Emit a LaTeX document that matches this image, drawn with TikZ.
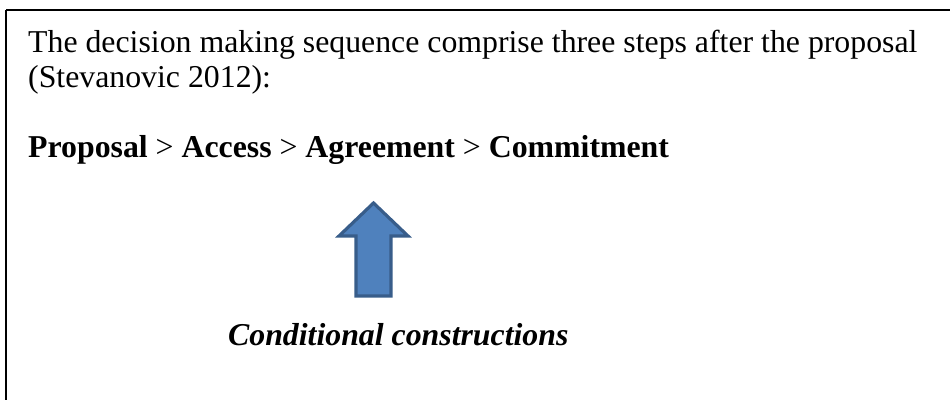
\documentclass[tikz,border=0pt]{standalone}
\usepackage{fontspec}
\setmainfont{Liberation Serif}
\usetikzlibrary{positioning}

\definecolor{arrowfill}{HTML}{4F81BD}
\definecolor{arrowline}{HTML}{385D8A}

\begin{document}
\begin{tikzpicture}[x=1pt,y=-1pt]
		\tikzstyle{line}=[anchor=base west,inner sep=0pt,font=\fontsize{31.8}{36}\selectfont]
		\useasboundingbox (0,0) rectangle (950,399);
		
		% frame, cut off at the right and bottom
		\draw[line width=2.4pt] (6,10) -- (960,10);
		\draw[line width=2.4pt] (6,10) -- (6,410);
		
		\node[line] (intro)  at (28,52)  {The decision making sequence comprise three steps after the proposal};
		\node[line] (cite)   at (28,87)  {(Stevanovic 2012):};
		\node[line] (steps)  at (28,157) {\textbf{Proposal} > \textbf{Access} > \textbf{Agreement} > \textbf{Commitment}};
		\node[line] (cond)   at (228,345) {\textbf{\textit{Conditional constructions}}};
		
		% block arrow
		\coordinate (tip) at (373.5,203);
		\draw[fill=arrowfill,draw=arrowline,line width=3.2pt,line join=miter]
		(tip) -- (408,236) -- (391,236) -- (391,296) -- (356,296) -- (356,236) -- (339,236) -- cycle;
	\end{tikzpicture}
\end{document}
